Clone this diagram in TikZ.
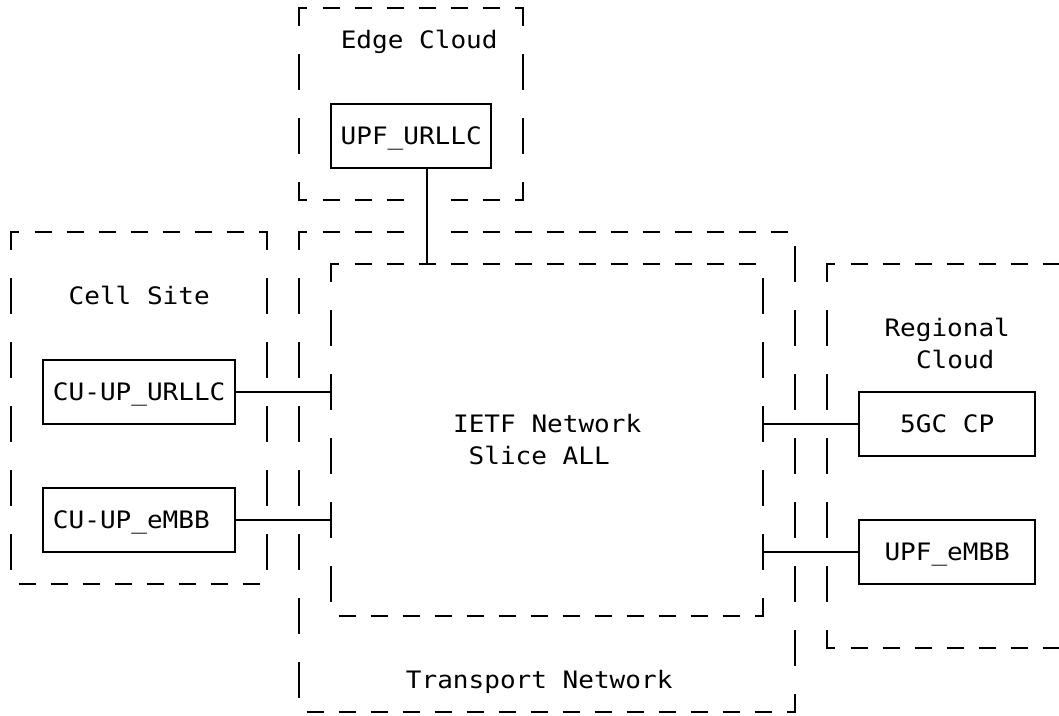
\documentclass[tikz,border=0pt]{standalone}
\usepackage{fontspec}
\newfontfamily\diagfont[FakeStretch=1.085]{DejaVu Sans Mono}
\newcommand\dashH[2]{\draw ({#1-0.53},#2) -- ({#1+0.53},#2);}
\newcommand\dashV[2]{\draw (#1,{#2-0.5625}) -- (#1,{#2+0.5625});}
\newcommand\cornerTL[2]{\draw (#1,{#2+0.5625}) -- (#1,#2) -- ({#1+0.5},#2);}
\newcommand\cornerTR[2]{\draw ({#1-0.5},#2) -- (#1,#2) -- (#1,{#2+0.5625});}
\newcommand\cornerBL[2]{\draw (#1,{#2-0.5625}) -- (#1,#2) -- ({#1+0.5},#2);}
\newcommand\cornerBR[2]{\draw ({#1-0.5},#2) -- (#1,#2) -- (#1,{#2-0.5625});}
\begin{document}
\begin{tikzpicture}[x=16pt,y=-32pt,shift={(11.2pt,-8pt)},
  line width=2pt,
  lbl/.style={font={\diagfont\fontsize{24}{32}\selectfont}, text height=17.5pt, text depth=1pt, inner sep=0pt},
  solidbox/.style={lbl, draw, line width=2pt, minimum height=64pt},
  area/.style={draw=none, inner sep=0pt},
  link/.style={line width=2pt}]
\useasboundingbox (-0.7,-0.25) rectangle (65.4875,22.09375);
\clip (-0.7,-0.25) rectangle (65.4875,22.09375);

% ---------- Edge Cloud (dashed frame) ----------
\cornerTL{18}{0} \cornerTR{32}{0}
\foreach \c in {20,22,...,30} {\dashH{\c}{0}}
\foreach \r in {2,4} {\dashV{18}{\r} \dashV{32}{\r}}
\cornerBL{18}{6} \cornerBR{32}{6}
\foreach \c in {20,22,24,28,30} {\dashH{\c}{6}}

% ---------- Cell Site ----------
\cornerTL{0}{7} \cornerTR{16}{7}
\foreach \c in {2,4,...,14} {\dashH{\c}{7}}
\foreach \r in {9,11,...,17} {\dashV{0}{\r} \dashV{16}{\r}}
\foreach \c in {1,3,...,15} {\dashH{\c}{18}}

% ---------- Transport Network ----------
\cornerTL{18}{7}
\foreach \c in {20,22,24,28,30,...,48} {\dashH{\c}{7}}
\foreach \r in {9,11,...,21} {\dashV{18}{\r}}
\foreach \r in {8,10,...,20} {\dashV{49}{\r}}
\foreach \c in {19,21,...,47} {\dashH{\c}{22}}
\cornerBR{49}{22}

% ---------- IETF Network Slice ----------
\cornerTL{20}{8}
\foreach \c in {22,24,...,46} {\dashH{\c}{8}}
\foreach \r in {10,12,...,18} {\dashV{20}{\r}}
\foreach \r in {9,11,...,17} {\dashV{47}{\r}}
\foreach \c in {21,23,...,45} {\dashH{\c}{19}}
\cornerBR{47}{19}

% ---------- Regional Cloud ----------
\cornerTL{51}{8}
\foreach \c in {53,55,...,65} {\dashH{\c}{8}}
\foreach \r in {10,12,...,18} {\dashV{51}{\r}}
\cornerBL{51}{20}
\foreach \c in {53,55,...,65} {\dashH{\c}{20}}

% ---------- areas and labels ----------
\node[area, minimum width=432pt, minimum height=352pt] (ietf) at (33.5,13.5) {};
\node[lbl] (edgelbl) at (25.5,1) {Edge Cloud};
\node[lbl] (celllbl) at (8,9) {Cell Site};
\node[lbl] (ietflbl1) at (33.5,13) {IETF Network};
\node[lbl] (ietflbl2) at (33,14) {Slice ALL};
\node[lbl] (translbl) at (33,21) {Transport Network};
\node[lbl] (reglbl1) at (58.5,10) {Regional};
\node[lbl] (reglbl2) at (59,11) {Cloud};

% ---------- solid boxes ----------
\node[solidbox, minimum width=160pt] (upfurllc) at (25,4) {UPF\_URLLC};
\node[solidbox, minimum width=192pt] (cuurllc) at (8,12) {CU-UP\_URLLC};
\node[solidbox, minimum width=192pt] (cuembb) at (8,16) {CU-UP\_eMBB\phantom{B}};
\node[solidbox, minimum width=176pt] (fivegc) at (58.5,13) {5GC CP};
\node[solidbox, minimum width=176pt] (upfembb) at (58.5,17) {UPF\_eMBB};

% ---------- connectors ----------
\draw[link] ([xshift=16pt]upfurllc.south) -- ([xshift=16pt]upfurllc.south |- ietf.north);
\draw[link] (cuurllc.east) -- (cuurllc.east -| ietf.west);
\draw[link] (cuembb.east) -- (cuembb.east -| ietf.west);
\draw[link] (fivegc.west) -- (fivegc.west -| ietf.east);
\draw[link] (upfembb.west) -- (upfembb.west -| ietf.east);
\end{tikzpicture}
\end{document}
